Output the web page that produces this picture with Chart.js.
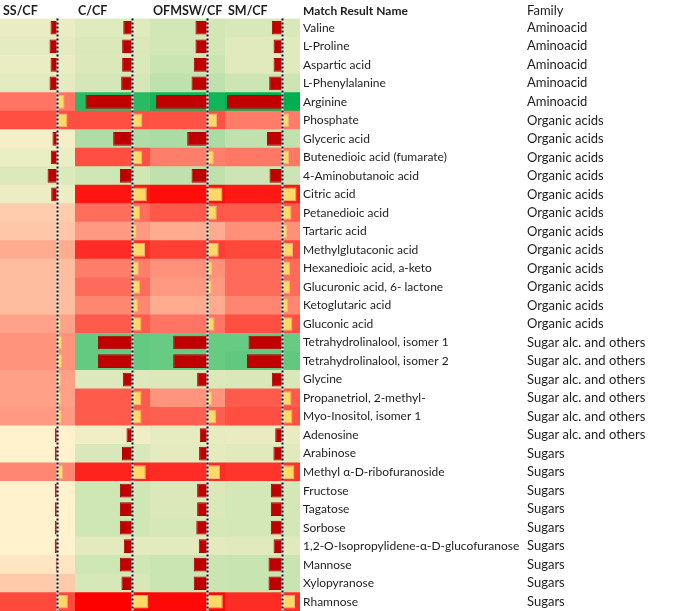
<!DOCTYPE html>
<html><head><meta charset="utf-8">
<script src="https://cdn.jsdelivr.net/npm/chart.js@4.4.1/dist/chart.umd.min.js"></script>
<style>html,body{margin:0;padding:0;background:#fff;}canvas{display:block}</style>
</head><body>
<canvas id="c" width="685" height="611"></canvas>
<script>
const compounds = ['Valine','L-Proline','Aspartic acid','L-Phenylalanine','Arginine','Phosphate','Glyceric acid','Butenedioic acid (fumarate)','4-Aminobutanoic acid','Citric acid','Petanedioic acid','Tartaric acid','Methylglutaconic acid','Hexanedioic acid, a-keto','Glucuronic acid, 6- lactone','Ketoglutaric acid','Gluconic acid','Tetrahydrolinalool, isomer 1','Tetrahydrolinalool, isomer 2','Glycine','Propanetriol, 2-methyl-','Myo-Inositol, isomer 1','Adenosine','Arabinose','Methyl \u03b1-D-ribofuranoside','Fructose','Tagatose','Sorbose','1,2-O-Isopropylidene-\u03b1-D-glucofuranose','Mannose','Xylopyranose','Rhamnose'];
const families = ['Aminoacid','Aminoacid','Aminoacid','Aminoacid','Aminoacid','Organic acids','Organic acids','Organic acids','Organic acids','Organic acids','Organic acids','Organic acids','Organic acids','Organic acids','Organic acids','Organic acids','Organic acids','Sugar alc. and others','Sugar alc. and others','Sugar alc. and others','Sugar alc. and others','Sugar alc. and others','Sugar alc. and others','Sugars','Sugars','Sugars','Sugars','Sugars','Sugars','Sugars','Sugars','Sugars'];
const columnLabels = ['SS/CF','C/CF','OFMSW/CF','SM/CF'];
const nameHeader = 'Match Result Name';
const familyHeader = 'Family';

const ssCF    = [-0.50,-0.57,-0.50,-0.57, 0.50, 0.71,-0.36,-0.48,-0.71,-0.45, 0.02, 0.05, 0.20, 0.10, 0.10, 0.10, 0.25, 0.33, 0.33, 0.26, 0.26, 0.30,-0.19,-0.19, 0.40,-0.19,-0.19,-0.19,-0.19,-0.12, 0.03, 0.74];
const cCF     = [-0.66,-0.74,-0.74,-0.81,-3.36, 0.71,-1.38, 0.71,-0.90, 1.02, 0.54, 0.30, 0.90, 0.45, 0.55, 0.40, 0.64,-2.47,-2.47,-0.69, 0.64, 0.64,-0.43,-0.75, 0.95,-0.90,-0.90,-0.90,-0.62,-0.90,-0.79, 1.14];
const ofmswCF = [-0.86,-0.86,-0.98,-1.14,-3.69, 0.69,-1.45, 0.45,-1.14, 1.07, 0.66, 0.20, 0.80, 0.35, 0.30, 0.20, 0.50,-2.45,-2.45,-0.74, 0.33, 0.62,-0.55,-0.60, 0.90,-0.74,-0.74,-0.80,-0.62,-0.98,-0.98, 1.09];
const smCF    = [-0.76,-0.64,-0.64,-0.95,-3.97, 0.46,-1.11, 0.48,-0.93, 1.00, 0.64, 0.35, 0.75, 0.55, 0.55, 0.40, 0.71,-2.43,-2.54,-0.76, 0.64, 0.71,-0.52,-0.65, 0.85,-0.83,-0.83,-0.83,-0.64,-1.00,-1.00, 0.90];

const series = [ssCF, cCF, ofmswCF, smCF];
const colKeys = ['x0','x1','x2','x3'];
const AX_MIN = -4.107, AX_MAX = 1.25;
const FONT = 'Lato, "Open Sans", sans-serif';
const TEXT = '#1e1e1e';

// Excel-like 3-colour scale over the whole table (min / 50th percentile / max)
const all = series.flat();
const vMin = Math.min(...all), vMax = Math.max(...all);
const sorted = [...all].sort((a,b)=>a-b);
const pos = (sorted.length-1)*0.5;
const vMid = sorted[Math.floor(pos)] + (sorted[Math.ceil(pos)]-sorted[Math.floor(pos)])*(pos-Math.floor(pos));
const GREEN=[0,176,80], MIDC=[255,242,204], RED=[255,0,0];
function mix(a,b,t){return 'rgb('+a.map((x,i)=>Math.round(x+(b[i]-x)*t)).join(',')+')';}
function cellColor(v){
  if (v <= vMid) return mix(MIDC, GREEN, (vMid-v)/(vMid-vMin));
  return mix(MIDC, RED, (v-vMid)/(vMax-vMid));
}

const datasets = [];
series.forEach((vals,i)=>{
  datasets.push({label: columnLabels[i]+' scale', data: compounds.map(()=>[AX_MIN, AX_MAX]), xAxisID: colKeys[i],
    backgroundColor: vals.map(cellColor), borderWidth:0, barPercentage:1, categoryPercentage:1, grouped:false, order:2});
  datasets.push({label: columnLabels[i], data: vals, xAxisID: colKeys[i],
    backgroundColor: vals.map(v=>v<0?'#C00000':'#FFD966'),
    borderColor: vals.map(v=>v<0?'#B00000':'#F4B183'),
    borderWidth:1, barPercentage:0.74, categoryPercentage:1, grouped:false, order:1});
});

const scales = {};
colKeys.forEach((k,i)=>{
  scales[k] = {type:'linear', position:'top', stack:'cols', stackWeight:1, weight: colKeys.length-i,
    min:AX_MIN, max:AX_MAX,
    ticks:{display:false}, grid:{display:false, drawTicks:false}, border:{display:false}, title:{display:false}};
});
function fixWidth(w){ return function(s){ s.width = w; s.paddingTop = 0; s.paddingBottom = 0; }; }
scales.y = {type:'category', position:'right', weight:0, offset:true,
  grid:{display:false, drawTicks:false}, border:{display:false},
  ticks:{autoSkip:false, padding:3, crossAlign:'near', font:{family:FONT, size:12}, color:TEXT},
  afterFit: fixWidth(224)};
scales.yFam = {type:'category', labels: families, position:'right', weight:1, offset:true,
  grid:{display:false, drawTicks:false}, border:{display:false},
  ticks:{autoSkip:false, padding:3, crossAlign:'near', font:{family:FONT, size:13}, color:TEXT},
  afterFit: fixWidth(161)};

const axisLines = {id:'axisLines', afterDatasetsDraw(chart){
  const {ctx, chartArea} = chart;
  colKeys.forEach(k=>{
    const x = chart.scales[k].getPixelForValue(0);
    ctx.save();
    ctx.lineWidth = 2;
    ctx.strokeStyle = '#ffffff';
    ctx.beginPath(); ctx.moveTo(x, chartArea.top); ctx.lineTo(x, chartArea.bottom); ctx.stroke();
    ctx.setLineDash([2,2]);
    ctx.strokeStyle = '#000000';
    ctx.beginPath(); ctx.moveTo(x, chartArea.top); ctx.lineTo(x, chartArea.bottom); ctx.stroke();
    ctx.restore();
  });
}};
const headers = {id:'headers', afterDraw(chart){
  const ctx = chart.ctx; const y = 11;
  ctx.save(); ctx.textBaseline='middle'; ctx.textAlign='left'; ctx.fillStyle=TEXT;
  ctx.font = 'bold 12.5px '+FONT;
  colKeys.forEach((k,i)=>ctx.fillText(columnLabels[i], chart.scales[k].left+3, y));
  ctx.font = 'bold 12px '+FONT;
  ctx.fillText(nameHeader, chart.scales.y.left+3, y);
  ctx.font = '13px '+FONT;
  ctx.fillText(familyHeader, chart.scales.yFam.left+3, y);
  ctx.restore();
}};

new Chart(document.getElementById('c'), {
  type:'bar',
  data:{labels: compounds, datasets},
  options:{
    indexAxis:'y', responsive:false, animation:false,
    layout:{autoPadding:false, padding:{top:18.5, left:0, right:0, bottom:0}},
    plugins:{legend:{display:false}, tooltip:{enabled:false}},
    scales
  },
  plugins:[axisLines, headers]
});
</script>
</body></html>
